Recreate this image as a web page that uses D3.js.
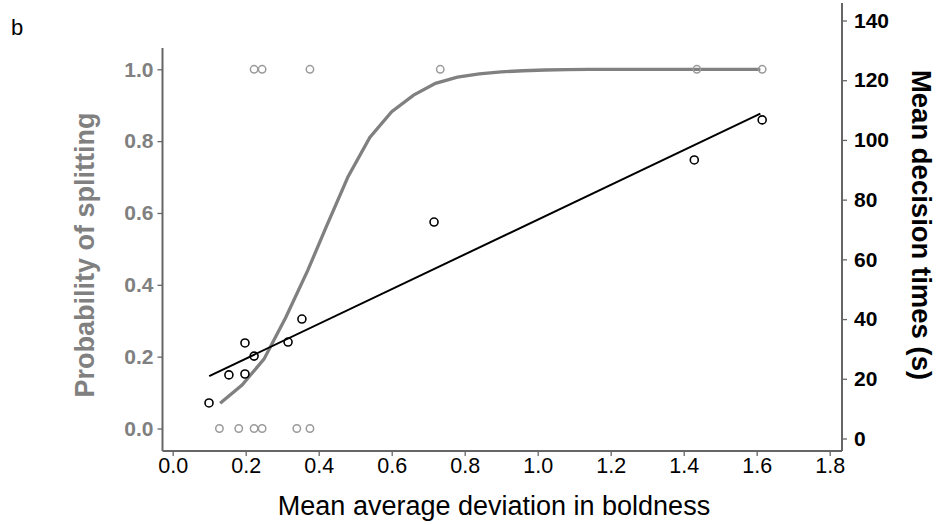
<!DOCTYPE html>
<html>
<head>
<meta charset="utf-8">
<script src="https://cdn.jsdelivr.net/npm/d3@7"></script>
<style>
body { margin: 0; background: #fff; }
text { font-family: "Liberation Sans", Arial, sans-serif; }
</style>
</head>
<body>
<svg id="chart"></svg>
<script>
// binary outcome: split (1) or not (0), per group
var splitX = [0.128, 0.181, 0.223, 0.245, 0.340, 0.376, 0.223, 0.245, 0.376, 0.733, 1.436, 1.615]
var splitY = [0, 0, 0, 0, 0, 0, 1, 1, 1, 1, 1, 1]

// fitted probability curve
var curveX = [0.13, 0.19, 0.25, 0.31, 0.37, 0.42, 0.48, 0.54, 0.60, 0.66, 0.72, 0.78, 0.84, 0.90, 0.96, 1.02, 1.08, 1.14, 1.30, 1.45, 1.61]
var curveY = [0.070, 0.121, 0.193, 0.31, 0.44, 0.56, 0.70, 0.81, 0.882, 0.928, 0.961, 0.978, 0.987, 0.993, 0.996, 0.998, 0.999, 1.0, 1.0, 1.0, 1.0]

// mean decision times (s)
var timeX = [0.0995, 0.154, 0.198, 0.198, 0.223, 0.316, 0.354, 0.716, 1.429, 1.615]
var timeY = [11.9, 21.3, 32.0, 21.6, 27.6, 32.3, 40.0, 72.5, 93.3, 106.7]

// regression line endpoints
var fitX = [0.10, 1.61]
var fitY = [20.9, 108.8]

var xTicks = [0, 0.2, 0.4, 0.6, 0.8, 1.0, 1.2, 1.4, 1.6, 1.8]
var probTicks = [0, 0.2, 0.4, 0.6, 0.8, 1.0]
var timeTicks = [0, 20, 40, 60, 80, 100, 120, 140]

var width = 941
var height = 525

var svg = d3.select("#chart")
    .attr("width", width)
    .attr("height", height)

var frame = {left: 162.5, right: 842, bottom: 451}
var grey = "#808080"
var axisCol = "#666"

var x = d3.scaleLinear().domain([0, 1.8]).range([172.7, 829.7])
var yProb = d3.scaleLinear().domain([0, 1]).range([428.5, 69.3])
var yTime = d3.scaleLinear().domain([0, 140]).range([438.5, 20.5])

// x axis
var xAxis = d3.axisBottom(x)
    .tickValues(xTicks)
    .tickFormat(d3.format(".1f"))
    .tickSize(5)
    .tickPadding(2)
var gx = svg.append("g")
    .attr("transform", "translate(0," + frame.bottom + ")")
    .call(xAxis)
gx.select(".domain").remove()
gx.selectAll(".tick line").attr("stroke", axisCol).attr("stroke-width", 1.3)
gx.selectAll(".tick text").attr("fill", "#000").style("font-size", "21.5px")
gx.append("line")
    .attr("x1", frame.left).attr("x2", frame.right)
    .attr("stroke", axisCol).attr("stroke-width", 2)

// left axis (probability)
var yAxisL = d3.axisLeft(yProb)
    .tickValues(probTicks)
    .tickFormat(d3.format(".1f"))
    .tickSize(5)
    .tickPadding(4)
var gl = svg.append("g")
    .attr("transform", "translate(" + frame.left + ",0)")
    .call(yAxisL)
gl.select(".domain").remove()
gl.selectAll(".tick line").attr("stroke", axisCol).attr("stroke-width", 1.3)
gl.selectAll(".tick text").attr("fill", grey).style("font-size", "21px").style("font-weight", "bold")
gl.append("line")
    .attr("y1", 48).attr("y2", frame.bottom)
    .attr("stroke", axisCol).attr("stroke-width", 2)

// right axis (decision times)
var yAxisR = d3.axisRight(yTime)
    .tickValues(timeTicks)
    .tickSize(5)
    .tickPadding(7)
var gr = svg.append("g")
    .attr("transform", "translate(" + frame.right + ",0)")
    .call(yAxisR)
gr.select(".domain").remove()
gr.selectAll(".tick line").attr("stroke", axisCol).attr("stroke-width", 1.3)
gr.selectAll(".tick text").attr("fill", "#000").style("font-size", "21px").style("font-weight", "bold")
gr.append("line")
    .attr("y1", 3).attr("y2", frame.bottom)
    .attr("stroke", axisCol).attr("stroke-width", 2)

// axis titles
svg.append("text")
    .attr("x", 494).attr("y", 515)
    .attr("text-anchor", "middle")
    .style("font-size", "27px")
    .text("Mean average deviation in boldness")

svg.append("text")
    .attr("transform", "translate(94,255) rotate(-90)")
    .attr("text-anchor", "middle")
    .attr("fill", grey)
    .style("font-size", "27px").style("font-weight", "bold")
    .text("Probability of splitting")

svg.append("text")
    .attr("transform", "translate(912,225) rotate(90)")
    .attr("text-anchor", "middle")
    .attr("fill", "#000")
    .style("font-size", "27.5px").style("font-weight", "bold")
    .text("Mean decision times (s)")

svg.append("text")
    .attr("x", 11).attr("y", 35)
    .style("font-size", "22px")
    .text("b")

// logistic curve
var curve = curveX.map(function(d, i) { return [d, curveY[i]] })
svg.append("path")
    .datum(curve)
    .attr("fill", "none")
    .attr("stroke", grey)
    .attr("stroke-width", 3.3)
    .attr("d", d3.line().x(function(d) { return x(d[0]) }).y(function(d) { return yProb(d[1]) }))

// split points
svg.selectAll(".split")
    .data(splitX)
    .enter()
    .append("circle")
    .attr("class", "split")
    .attr("cx", function(d) { return x(d) })
    .attr("cy", function(d, i) { return yProb(splitY[i]) })
    .attr("r", 3.7)
    .attr("fill", "none")
    .attr("stroke", "#9a9a9a")
    .attr("stroke-width", 1.5)

// regression line
svg.append("line")
    .attr("x1", x(fitX[0])).attr("y1", yTime(fitY[0]))
    .attr("x2", x(fitX[1])).attr("y2", yTime(fitY[1]))
    .attr("stroke", "#000")
    .attr("stroke-width", 2)

// decision time points
svg.selectAll(".time")
    .data(timeX)
    .enter()
    .append("circle")
    .attr("class", "time")
    .attr("cx", function(d) { return x(d) })
    .attr("cy", function(d, i) { return yTime(timeY[i]) })
    .attr("r", 4)
    .attr("fill", "none")
    .attr("stroke", "#000")
    .attr("stroke-width", 1.6)
</script>
</body>
</html>
